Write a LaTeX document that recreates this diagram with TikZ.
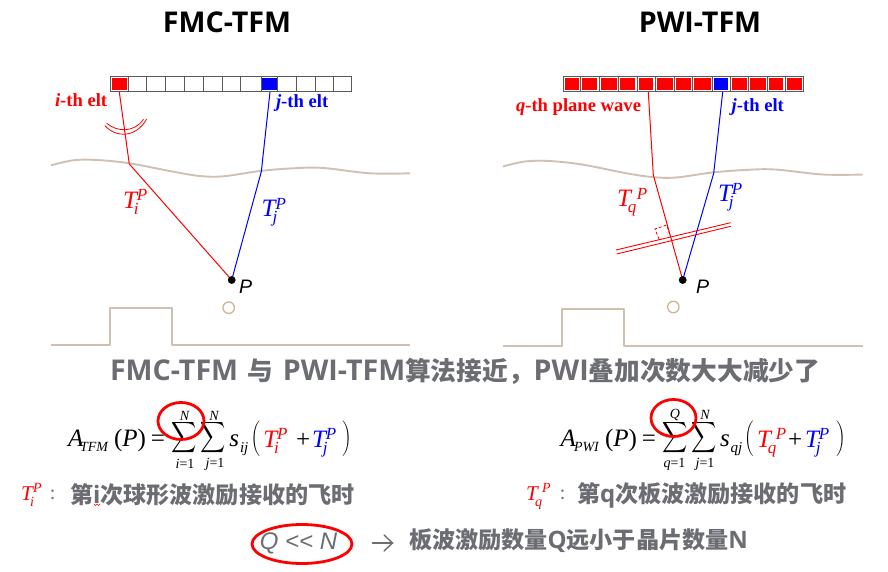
\documentclass[tikz,border=0pt]{standalone}
\usepackage{fontspec}
\usetikzlibrary{shapes.geometric}
\setmainfont{Liberation Serif}
\newfontfamily\cjk{Noto Sans CJK SC}
\newfontfamily\ol{Open Sans}
\newfontfamily\sans{Liberation Sans}
\definecolor{tan}{HTML}{CFC1B1}
\definecolor{gr}{HTML}{6B6D72}
\definecolor{rd}{HTML}{FF0000}
\definecolor{bl}{HTML}{0000FF}
\newcommand\fs[1]{\fontsize{#1}{#1}\selectfont}
\newcommand\lat[1]{{\ol\fs{24}#1}}
\newcommand\latb[1]{{\ol\fs{28.6}#1}}
% T with subscript and superscript: #1 sub, #2 sup, #3 back-kern, #4 sup shift, #5 script size
\newcommand\TP[5]{{\itshape T\hspace{#3pt}\rlap{\raisebox{-6pt}{\fs{#5}#1}}\hspace{#4pt}\raisebox{7.5pt}{\fs{#5}#2}}}
\tikzset{
  lab/.style={anchor=base west,inner sep=0pt,outer sep=0pt},
  ctr/.style={inner sep=0pt,outer sep=0pt},
  elt/.style={lab,font=\fs{18.6}\bfseries},
  surf/.style={tan,line width=1.9pt,line join=round},
  ray/.style={line width=1pt},
  ttl/.style={ctr,font=\ol\bfseries\fs{28.6}},
  note/.style={ctr,anchor=west,font=\cjk\bfseries\fs{23.1},text=gr},
  eq/.style={lab,font=\fs{25}},
  bnd/.style={ctr,font=\itshape\fs{14}},
  sig/.style={ctr,xscale=1.75,yscale=2.15},
  prn/.style={ctr,xscale=1.15,yscale=1.18},
  ring/.style={draw=rd,line width=2.8pt},
  cell/.style={draw=black!65,line width=1pt},
}
\begin{document}
\begin{tikzpicture}[x=1pt,y=-1pt]
\useasboundingbox[fill=white] (0,0) rectangle (888,572);
% titles
\node[ttl] (t1) at (227,22) {FMC-TFM};
\node[ttl] (t2) at (700,22) {PWI-TFM};
% left array
\draw[cell] (110.7,77) rectangle (351.7,92);
\foreach \a in {128.3,146.7,165.7,184.3,203.3,222.7,240,261,277.7,296.7,315.3,333.3}
  \draw[cell] (\a,77) -- (\a,92);
\fill[rd] (112.3,78.3) rectangle (127.3,89.6);
\fill[bl] (262,78.3) rectangle (277,89.6);
% right array
\draw[cell] (563.3,77) rectangle (803.7,92);
\foreach \a in {580.7,599,618.3,637,655,674.3,692.7,712.7,730,748.3,767.3,785}
  \draw[cell] (\a,77) -- (\a,92);
\foreach \a/\b in {563.3/580.7,580.7/599,599/618.3,618.3/637,637/655,655/674.3,674.3/692.7,692.7/712.7,730/748.3,748.3/767.3,767.3/785,785/803.7}
  \fill[rd] (\a+1.6,78.4) rectangle (\b-1.6,90);
\fill[bl] (714.3,78.4) rectangle (728.4,90);
% surfaces
\draw[surf] plot[smooth,tension=.6] coordinates {(51,165.3) (73.3,160.3) (96.7,160) (129.3,163.3) (173.3,171.7) (200,176) (223.3,176.3) (260,171) (293.3,168.3) (323.3,168) (370,173.3) (410,173.3)};
\draw[surf] plot[smooth,tension=.6] coordinates {(503,166.5) (525,161.5) (549,161) (582,164.5) (625,173) (652,177) (676,177.5) (712,172.5) (745,170) (775,169.5) (823,174.5) (862.7,174.5)};
% pulses
\draw[surf] (51,345.3) -- (110,345.3) -- (110,308.3) -- (172,308.3) -- (172,345.3) -- (410,345.3);
\draw[surf] (503.3,346) -- (562.3,346) -- (562.3,309) -- (624,309) -- (624,346) -- (862.7,346);
\node[ctr,circle,draw=tan!80!brown,line width=1.3pt,minimum size=11.5pt] (c1) at (228.7,307.7) {};
\node[ctr,circle,draw=tan!80!brown,line width=1.3pt,minimum size=11.5pt] (c2) at (673.3,307) {};
% points
\coordinate (P1) at (231.7,280);
\coordinate (P2) at (682.7,280);
\coordinate (a1) at (119.3,92);
\coordinate (a2) at (129.3,164);
\coordinate (b1) at (270,92);
\coordinate (b2) at (261.3,171.7);
\coordinate (e1) at (648.3,92);
\coordinate (e2) at (653.3,175);
\coordinate (f1) at (722.7,92);
\coordinate (f2) at (713.7,173.3);
\draw[rd,ray] (a1) -- (a2) -- (P1);
\draw[bl,ray] (b1) -- (b2) -- (P1);
\draw[rd,ray] (e1) -- (e2) -- (P2);
\draw[bl,ray] (f1) -- (f2) -- (P2);
\node[ctr,circle,fill=black,minimum size=7.8pt] (P1b) at (P1) {};
\node[ctr,circle,fill=black,minimum size=7.8pt] (P2b) at (P2) {};
% spherical wave
\draw[rd,line width=.8pt] (105,125.7) .. controls (116,138) and (136,138) .. (146.7,119);
\draw[rd,line width=.8pt] (106.7,123.3) .. controls (117,132) and (134,133) .. (143.5,119.3);
% plane wave
\draw[rd,line width=.9pt] (616,250) -- (730.7,222.7);
\draw[rd,line width=.9pt] (616.7,254) -- (730.7,226.3);
\draw[rd,line width=.8pt,densely dashed] (659,239.3) -- (655,229) -- (666.7,225) -- (670,235.7);
% element labels
\node[elt,text=rd] (l1) at (55,106.7) {\textit{i}-th elt};
\node[elt,text=bl] (l2) at (276,107.5) {\textit{j}-th elt};
\node[elt,text=rd] (l3) at (516,111.7) {\textit{q}-th plane wave};
\node[elt,text=bl] (l4) at (731.7,111.5) {\textit{j}-th elt};
% T labels
\node[eq,text=rd] (T1) at (123,208) {\TP{i}{P}{-3}{3}{17}};
\node[eq,text=bl] (T2) at (261.7,216.5) {\TP{j}{P}{-3}{3}{17}};
\node[eq,text=rd] (T3) at (617,206.7) {\TP{q}{P}{-3}{9}{17}};
\node[eq,text=bl] (T4) at (718,201.7) {\TP{j}{P}{-3}{3}{17}};
\node[lab,font=\sans\itshape\fs{19.5}] (p1) at (239,293) {P};
\node[lab,font=\sans\itshape\fs{19.5}] (p2) at (696,293) {P};
% middle line
\node[ctr,anchor=west,font=\cjk\bfseries\fs{25.7},text=gr] (mid) at (110,371) {\latb{FMC-TFM}\hspace{9pt}与\hspace{10pt}\latb{PWI-TFM}算法接近，\latb{PWI}叠加次数大大减少了};
% left formula
\node[eq] (A1) at (68,446) {\itshape A};
\node[lab,font=\itshape\fs{14}] (A1s) at (80,451) {TFM};
\node[eq] (A1r) at (114,446) {(\textit{P})\hspace{5pt}=};
\node[sig] (S1) at (184.3,438) {$\displaystyle\sum$};
\node[sig] (S2) at (213.3,438) {$\displaystyle\sum$};
\node[bnd] (n1) at (184.5,416) {N};
\node[bnd] (n2) at (214,416) {N};
\node[bnd] (n3) at (185,464) {i\textup{=1}};
\node[bnd] (n4) at (215,464) {j\textup{=1}};
\node[eq] (s1) at (229.3,446) {\itshape s};
\node[lab,font=\itshape\fs{15}] (s1s) at (240,452) {ij};
\node[prn] (lp1) at (255.5,439) {$\Bigg($};
\node[prn] (rp1) at (347,439) {$\Bigg)$};
\node[eq,text=rd] (e1T) at (263.3,447) {\TP{i}{P}{-3}{3}{17}};
\node[eq] (pl1) at (296,447) {+};
\node[eq,text=bl] (e2T) at (312,447) {\TP{j}{P}{-3}{3}{17}};
% right formula
\node[eq] (A2) at (560.7,446) {\itshape A};
\node[lab,font=\itshape\fs{14}] (A2s) at (574,451) {PWI};
\node[eq] (A2r) at (605,446) {(\textit{P})\hspace{5pt}=};
\node[sig] (S3) at (675,438) {$\displaystyle\sum$};
\node[sig] (S4) at (704,438) {$\displaystyle\sum$};
\node[bnd] (n5) at (675,415) {Q};
\node[bnd] (n6) at (705,415) {N};
\node[bnd] (n7) at (674.5,464) {q\textup{=1}};
\node[bnd] (n8) at (705,464) {j\textup{=1}};
\node[eq] (s2) at (720,446) {\itshape s};
\node[lab,font=\itshape\fs{15}] (s2s) at (730.5,452) {qj};
\node[prn] (lp2) at (749,439) {$\Bigg($};
\node[prn] (rp2) at (841,439) {$\Bigg)$};
\node[eq,text=rd] (e3T) at (757,447) {\TP{q}{P}{-3}{8}{17}};
\node[eq] (pl2) at (788,447) {+};
\node[eq,text=bl] (e4T) at (805,447) {\TP{j}{P}{-3}{3}{17}};
% rings
\node[ring,ctr,ellipse,minimum width=46pt,minimum height=37pt] at (181,421) (r1) {};
\node[ring,ctr,ellipse,minimum width=45pt,minimum height=37pt] at (673.5,418) (r2) {};
\node[ring,ctr,ellipse,minimum width=100pt,minimum height=39pt] at (302,544) (r3) {};
% notes
\node[eq,text=rd,font=\fs{21}] (n1T) at (21,500) {\TP{i}{P}{-2.5}{3}{14}};
\node[ctr,font=\cjk\fs{18},text=gr] (co1) at (53.5,495) {:};
\node[note] (nt1) at (70,495) {第\lat{i}次球形波激励接收的飞时};
\draw[rd,line width=.5pt] (94,504) -- (95.5,505.5) -- (97,504) -- (98.5,505.5) -- (100,504);
\node[eq,text=rd,font=\fs{21}] (n2T) at (526,500) {\TP{q}{P}{-2.5}{7}{14}};
\node[ctr,font=\cjk\fs{18},text=gr] (co2) at (563,495) {:};
\node[note] (nt2) at (577,495) {第\lat{q}次板波激励接收的飞时};
% bottom line
\node[ctr,font=\sans\itshape\fs{24},text=gr] (qn) at (298.5,543) {Q << N};
\coordinate (ar1) at (372.5,543);
\coordinate (ar2) at (392.5,543);
\draw[gr,line width=1.4pt,line cap=round] (ar1) -- (ar2);
\draw[gr,line width=1.4pt,line cap=round] (384,535) -- (ar2) -- (384,551);
\node[note] (nt3) at (409,541) {板波激励数量\lat{Q}远小于晶片数量\lat{N}};
\end{tikzpicture}
\end{document}
